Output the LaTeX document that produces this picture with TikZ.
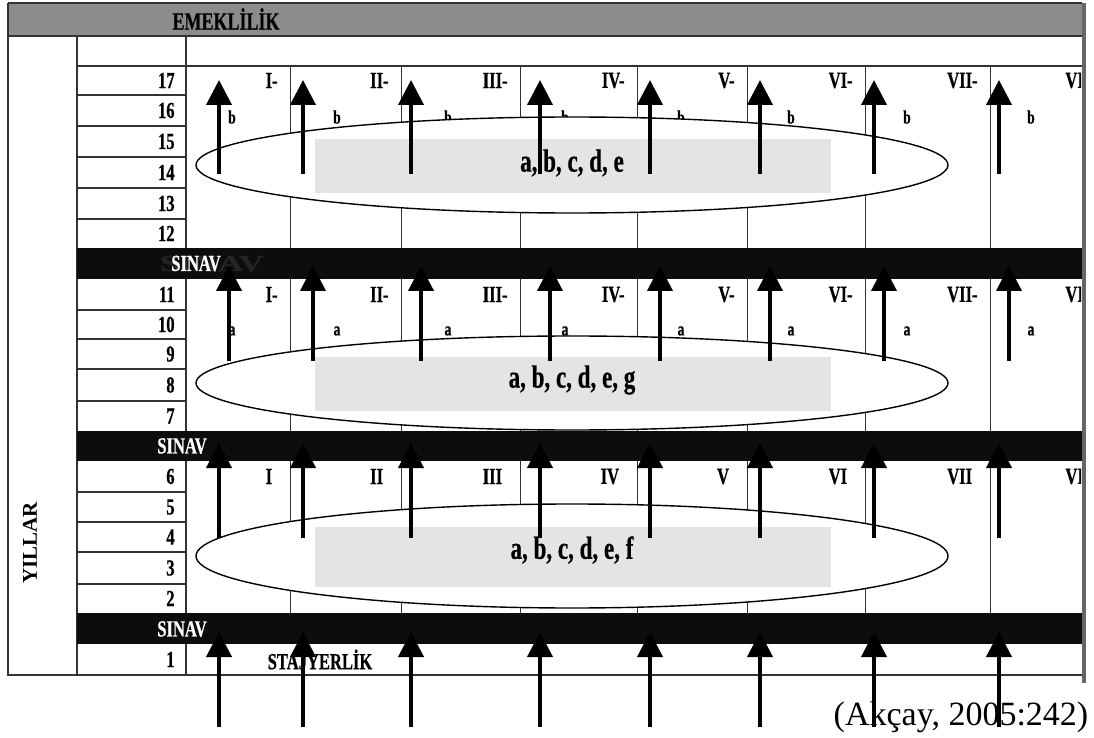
\documentclass[tikz,border=0pt]{standalone}
\usepackage{fontspec}
\setmainfont{Liberation Serif}
\newfontfamily\tabfont{Liberation Serif}[FakeStretch=0.72,FakeBold=0.6]
\usetikzlibrary{arrows.meta,calc,positioning}

\definecolor{headgray}{HTML}{8C8C8C}
\definecolor{boxgray}{HTML}{E4E4E4}
\definecolor{linegray}{HTML}{333333}

\tikzset{
  rule/.style={draw=linegray, line width=0.8pt},
  thin rule/.style={draw=linegray, line width=0.5pt},
  tab/.style={font=\tabfont\bfseries\fontsize{11.5}{13}\selectfont, inner sep=0pt},
  small/.style={font=\tabfont\bfseries\fontsize{9.5}{11}\selectfont, inner sep=0pt},
  big/.style={font=\tabfont\bfseries\fontsize{16}{18}\selectfont, inner sep=0pt},
  band/.style={fill=black!95},
  ring/.style={draw=black, line width=0.7pt, fill=white},
  shade/.style={fill=boxgray, inner sep=0pt},
  upar/.style={line width=2pt, -{Triangle[length=12.5pt,width=12.5pt]}},
}

\begin{document}
\begin{tikzpicture}[x=0.5pt, y=-0.5pt]
\useasboundingbox (0,0) rectangle (1094,738);

% header
\fill[headgray] (8,3) rectangle (1082,36);
\draw[rule] (8,3) -- (1082,3);
\draw[rule] (8,36) -- (1082,36);
\node[tab, font=\tabfont\bfseries\fontsize{12.5}{14}\selectfont] (emek) at (226,19) {EMEKLİLİK};

% frame and fixed columns
\draw[rule] (8,3) -- (8,675) -- (1082,675);
\draw[rule] (77,36) -- (77,675);
\draw[rule] (186,36) -- (186,675);
\draw[rule] (77,66) -- (1082,66);
\foreach \y in {95,126,157,188,219,310,339,369,401,492,522,552,584}
  \draw[rule] (77,\y) -- (186,\y);
\foreach \top/\bot in {66/248, 279/431, 461/613}
  \foreach \x in {290,401,520,637,747,865,990}
    \draw[thin rule] (\x,\top) -- (\x,\bot);

% years
\foreach \n/\y in {17/80.5, 16/110.5, 15/141.5, 14/172.5, 13/203.5, 12/233.5,
                   11/294.5, 10/324.5, 9/354, 8/385, 7/416,
                   6/476.5, 5/507, 4/537, 3/568, 2/598.5, 1/659.5}
  \node[tab, anchor=east] (yr\n) at (175,\y) {\n};
\node[font=\bfseries\fontsize{10.5}{12}\selectfont, inner sep=0pt, rotate=90] (yillar) at (30,543) {YILLAR};

% grade headings
\foreach \r/\x in {I/290, II/401, III/520, IV/637, V/747, VI/865, VII/990} {
  \node[tab, anchor=east] (top\r) at (\x-12,80.5) {\r-};
  \node[tab, anchor=east] (mid\r) at (\x-12,294.5) {\r-};
  \node[tab, anchor=east] (low\r) at (\x-12,476.5) {\r\phantom{-}};
}
\begin{scope}
  \clip (8,0) rectangle (1081,738);
  \node[tab, anchor=west] (topVIII) at (1065,80.5) {VIII-};
  \node[tab, anchor=west] (midVIII) at (1065,294.5) {VIII-};
  \node[tab, anchor=west] (lowVIII) at (1065,476.5) {VIII};
\end{scope}

\foreach \x [count=\i] in {232,337,448,565,681,791,907,1031} {
  \node[small] (b\i) at (\x,117) {b};
  \node[small] (a\i) at (\x,331) {a};
}

% course groups
\draw[ring] (572,165) ellipse [x radius=376, y radius=48];
\node[shade, minimum width=258pt, minimum height=27pt] (box1) at (573,166) {};
\node[big] (set1) at (572,163) {a, b, c, d, e};

\draw[ring] (572,383) ellipse [x radius=376, y radius=47];
\node[shade, minimum width=258pt, minimum height=27pt] (box2) at (573,384) {};
\node[big] (set2) at (572,380) {a, b, c, d, e, g};

\draw[ring] (572,556) ellipse [x radius=376, y radius=52];
\node[shade, minimum width=258pt, minimum height=30pt] (box3) at (573,557) {};
\node[big] (set3) at (572,550) {a, b, c, d, e, f};

% exams
\fill[band] (77,248) rectangle (1082,279);
\fill[band] (77,431) rectangle (1082,461);
\fill[band] (77,613) rectangle (1082,644);
\node[tab, text=black!86, xscale=2.1] (ghost) at (212,263.5) {SINAV};
\node[tab, text=white] (sinav1) at (196,263.5) {SINAV};
\node[tab, text=white] (sinav2) at (182,446) {SINAV};
\node[tab, text=white] (sinav3) at (182,629) {SINAV};
\node[tab] (staj) at (320,659.5) {STAJYERLİK};

\draw[draw=black!60, line width=2pt] (1084,3) -- (1084,683);

\node[font=\fontsize{17}{20}\selectfont, inner sep=0pt] (src) at (961,717) {(Akçay, 2005:242)};

% promotion arrows
\foreach \x [count=\i] in {219,303,411,540,650,760,874,999} {
  \coordinate (s1\i) at (\x,174);  \coordinate (e1\i) at (\x,80);
  \coordinate (s2\i) at (\x+10,361); \coordinate (e2\i) at (\x+10,266);
  \coordinate (s3\i) at (\x,538);  \coordinate (e3\i) at (\x,443);
  \coordinate (s4\i) at (\x,727);  \coordinate (e4\i) at (\x,632);
  \draw[upar] (s1\i) -- (e1\i);
  \draw[upar] (s2\i) -- (e2\i);
  \draw[upar] (s3\i) -- (e3\i);
  \draw[upar] (s4\i) -- (e4\i);
}
\end{tikzpicture}
\end{document}
